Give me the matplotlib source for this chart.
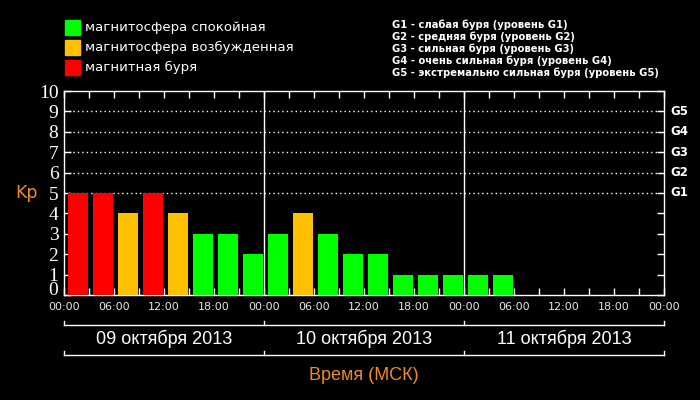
"""Kp-индекс за 09-11 октября 2013 (МСК), трёхчасовые интервалы."""
import matplotlib
matplotlib.use("Agg")
import matplotlib.pyplot as plt
from matplotlib.patches import Rectangle

# --- данные -------------------------------------------------------------
kp_values = [5, 5, 4, 5, 4, 3, 3, 2,
             3, 4, 3, 2, 2, 1, 1, 1,
             1, 1]
day_labels = ["09 октября 2013", "10 октября 2013", "11 октября 2013"]
time_labels = ["00:00", "06:00", "12:00", "18:00"] * 3 + ["00:00"]
g_levels = ["G1", "G2", "G3", "G4", "G5"]
g_descr = ["слабая буря (уровень G1)",
           "средняя буря (уровень G2)",
           "сильная буря (уровень G3)",
           "очень сильная буря (уровень G4)",
           "экстремально сильная буря (уровень G5)"]
legend_labels = ["магнитосфера спокойная",
                 "магнитосфера возбужденная",
                 "магнитная буря"]

GREEN, ORANGE, RED = "#00ff00", "#ffc000", "#ff0000"
ACCENT = "#f08a24"
W, H = 700, 400


def kp_color(v):
    if v >= 5:
        return RED
    if v == 4:
        return ORANGE
    return GREEN


def yf(px):
    """пиксельная строка -> доля высоты осей (низ 295, верх 91)"""
    return (295 - px) / 204.0


fig = plt.figure(figsize=(7, 4), dpi=100, facecolor="black")
ax = fig.add_axes([64 / W, 1 - 295 / H, 600 / W, 204 / H], facecolor="black")

x = [3 * i + 0.5 for i in range(len(kp_values))]
ax.bar(x, kp_values, width=2.4, align="edge",
       color=[kp_color(v) for v in kp_values], zorder=3)

ax.set_xlim(0, 72)
ax.set_ylim(0, 10)

for level in range(5, 10):
    ax.plot([0, 72], [level, level], color="white", lw=1,
            ls=(0, (1, 2.2)), zorder=1)
for d in (24, 48):
    ax.axvline(d, color="white", lw=1, zorder=2)

for s in ax.spines.values():
    s.set_color("white")
    s.set_linewidth(1)

ax.set_xticks(range(0, 73, 6))
ax.set_xticklabels(time_labels)
ax.set_xticks(range(0, 73, 3), minor=True)
ax.set_yticks(range(0, 11))
ax.tick_params(axis="both", which="both", direction="in", colors="white",
               top=True, right=True, length=5, width=1)
ax.tick_params(axis="x", which="both", labelsize=8, pad=5,
               labelcolor="#e8e8e8")
ax.tick_params(axis="y", pad=4)
for lbl in ax.get_yticklabels():
    lbl.set_family(["Liberation Serif", "DejaVu Serif"])
    lbl.set_fontsize(14)
    lbl.set_color("white")
ax.get_yticklabels()[0].set_verticalalignment("baseline")

# G-уровни справа
for i, g in enumerate(g_levels):
    ax.text(1.01, 5 + i, g, transform=ax.get_yaxis_transform(),
            color="white", fontsize=8.5, fontweight="bold", va="center")

ax.text(-0.043, 5, "Kp", transform=ax.get_yaxis_transform(), color=ACCENT,
        fontsize=12.5, ha="right", va="center")

# скобки под осью с датами
trans = ax.get_xaxis_transform()
for py in (325, 355):
    ax.plot([0, 72], [yf(py), yf(py)], color="white", lw=1,
            transform=trans, clip_on=False)
    for d in (0, 24, 48, 72):
        ax.plot([d, d], [yf(py), yf(py - 4)], color="white", lw=1,
                transform=trans, clip_on=False)
for i, lbl in enumerate(day_labels):
    ax.text(24 * i + 12, yf(339), lbl, transform=trans, color="white",
            fontsize=13, ha="center", va="center",
            family=["Liberation Sans Narrow", "Liberation Sans"])
ax.text(36, yf(376), "Время (МСК)", transform=trans, color=ACCENT,
        fontsize=13, ha="center", va="center",
        family=["Liberation Sans Narrow", "Liberation Sans"])

# легенда
for i, (lbl, c) in enumerate(zip(legend_labels, (GREEN, ORANGE, RED))):
    top = 20 + 20 * i
    fig.add_artist(Rectangle((65 / W, 1 - (top + 15) / H), 15 / W, 15 / H,
                             transform=fig.transFigure, color=c))
    fig.text(85 / W, 1 - (top + 7.5) / H, lbl, color="white", fontsize=9.5,
             va="center")

for i, (g, d) in enumerate(zip(g_levels, g_descr)):
    fig.text(392 / W, 1 - (25 + 12 * i) / H, f"{g} - {d}", color="white",
             fontsize=7.2, fontweight="bold", va="center")

fig.savefig("out.png", dpi=100, facecolor="black")
